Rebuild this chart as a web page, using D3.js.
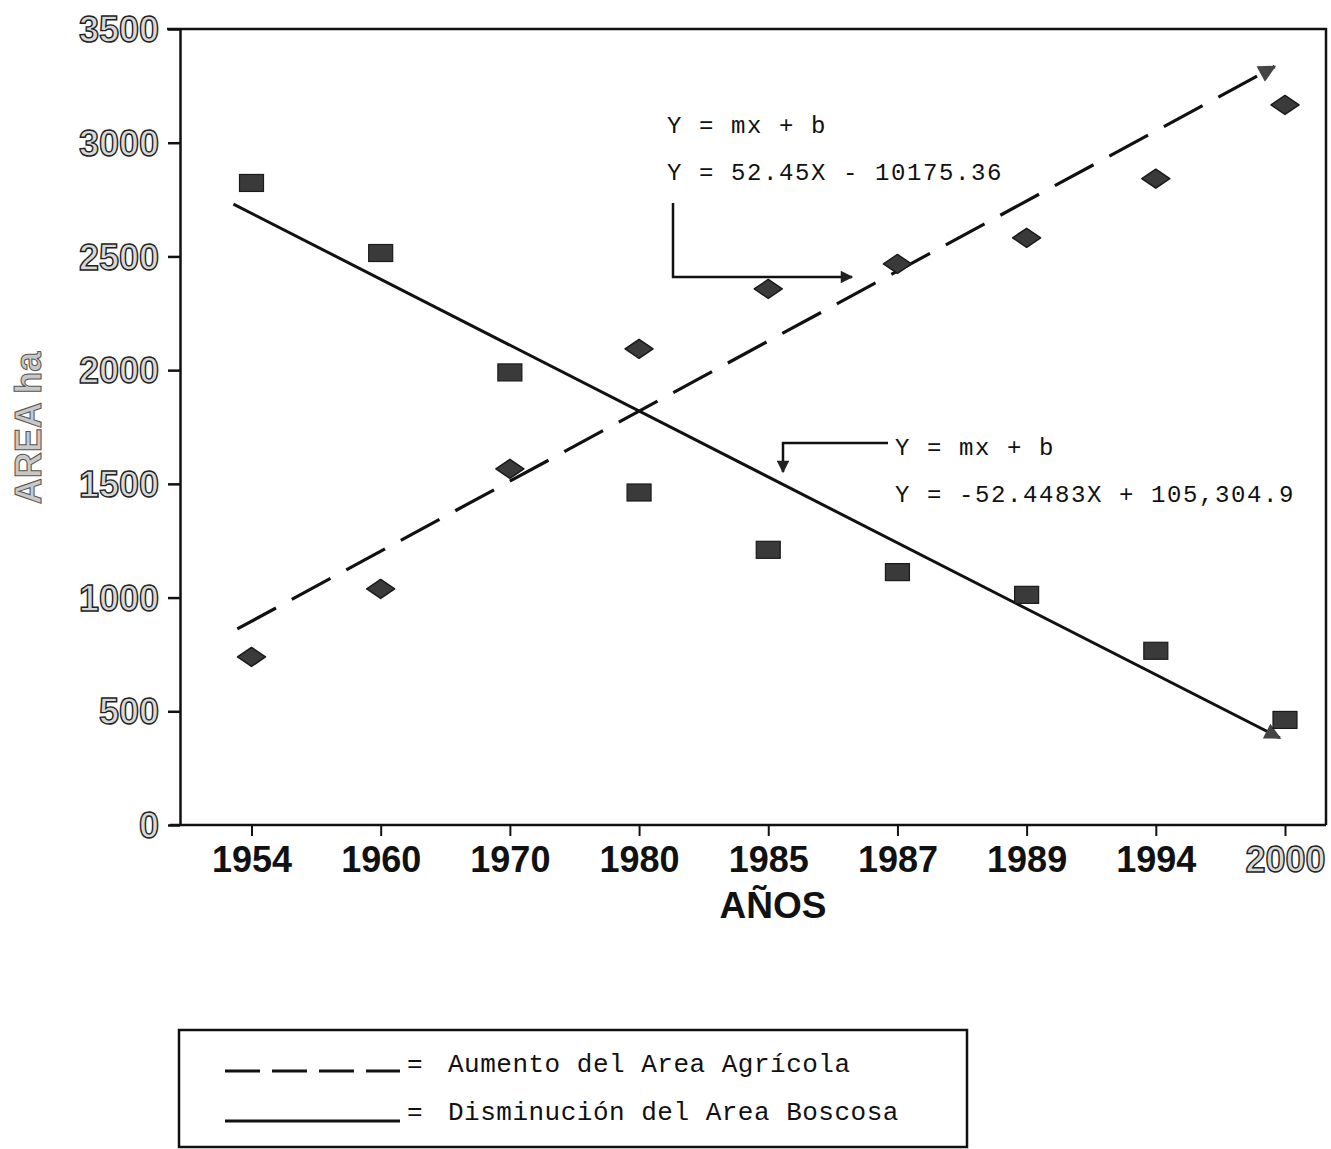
<!DOCTYPE html>
<html>
<head>
<meta charset="utf-8">
<script src="https://cdn.jsdelivr.net/npm/d3@7"></script>
<style>
  html, body { margin: 0; padding: 0; background: #fff; }
  svg { display: block; }
</style>
</head>
<body>
<svg id="chart" width="1331" height="1149"></svg>
<script>
// ---------------- data ----------------
const years = ["1954", "1960", "1970", "1980", "1985", "1987", "1989", "1994", "2000"];
const boscosa = [2823, 2515, 1990, 1462, 1210, 1112, 1012, 766, 462];   // squares
const agricola = [739, 1038, 1566, 2094, 2357, 2467, 2582, 2842, 3166]; // diamonds
const yTicks = [0, 500, 1000, 1500, 2000, 2500, 3000, 3500];
// trend lines in category-index space
const trendAgricolaIdx = [-0.11, 7.92];
const trendAgricolaVal = [862, 3335];
const trendBoscosaIdx = [-0.14, 7.96];
const trendBoscosaVal = [2730, 383];
const eqAgricola = ["Y = mx + b", "Y = 52.45X - 10175.36"];
const eqBoscosa = ["Y = mx + b", "Y = -52.4483X + 105,304.9"];
const legendLabels = ["Aumento del Area Agrícola", "Disminución del Area Boscosa"];
const xTitle = "AÑOS";
const yTitle = "AREA ha";

// ---------------- layout ----------------
const svg = d3.select("#chart");
const pLeft = 180, pRight = 1326, pTop = 29, pBottom = 825;

const x = d3.scalePoint().domain(years).range([251.5, 1285]);
const xi = d3.scaleLinear().domain([0, years.length - 1]).range([251.5, 1285]);
const y = d3.scaleLinear().domain([0, 3500]).range([pBottom, pTop]);

const defs = svg.append("defs");
defs.append("marker").attr("id", "arr").attr("viewBox", "0 0 10 10")
  .attr("refX", 9).attr("refY", 5).attr("markerWidth", 6).attr("markerHeight", 5)
  .attr("markerUnits", "strokeWidth").attr("orient", "auto")
  .append("path").attr("d", "M0,0 L10,5 L0,10 Z").attr("fill", "#222");
defs.append("marker").attr("id", "arr2").attr("viewBox", "0 0 10 10")
  .attr("refX", 9).attr("refY", 5).attr("markerWidth", 6.5).attr("markerHeight", 5.5)
  .attr("markerUnits", "strokeWidth").attr("orient", "auto")
  .append("path").attr("d", "M0,0 L10,5 L0,10 Z").attr("fill", "#444");

// frame
svg.append("path")
  .attr("d", `M${pLeft - 13},${pTop} H${pRight} V${pBottom}`)
  .attr("fill", "none").attr("stroke", "#111").attr("stroke-width", 2.5);

// y axis
const yAxis = svg.append("g").attr("transform", `translate(${pLeft},0)`)
  .call(d3.axisLeft(y).tickValues(yTicks).tickFormat(d3.format("d"))
    .tickSize(12).tickPadding(9).tickSizeOuter(0));
yAxis.select(".domain").attr("stroke", "#111").attr("stroke-width", 2.5);
yAxis.selectAll(".tick line").attr("stroke", "#111").attr("stroke-width", 2.5);
yAxis.selectAll(".tick text")
  .attr("font-family", "'Liberation Sans', Arial, sans-serif")
  .attr("font-weight", "bold").attr("font-size", 36)
  .attr("fill", "#d8d8d8").attr("stroke", "#222").attr("stroke-width", 1.4)
  .attr("dy", "0.35em");

// x axis
const xAxis = svg.append("g").attr("transform", `translate(0,${pBottom})`)
  .call(d3.axisBottom(x).tickSize(11).tickPadding(10).tickSizeOuter(0));
xAxis.select(".domain").attr("d", `M${pLeft - 10},0 H${pRight}`)
  .attr("stroke", "#111").attr("stroke-width", 2.5);
xAxis.selectAll(".tick line").attr("stroke", "#111").attr("stroke-width", 2);
xAxis.selectAll(".tick text")
  .attr("font-family", "'Liberation Sans', Arial, sans-serif")
  .attr("font-weight", "bold").attr("font-size", 36).attr("fill", "#111")
  .each(function (d) {
    if (d === "2000") d3.select(this).attr("fill", "#d8d8d8").attr("stroke", "#222").attr("stroke-width", 1.4);
  });

// axis titles
svg.append("text").text(xTitle)
  .attr("x", 773).attr("y", 918).attr("text-anchor", "middle")
  .attr("font-family", "'Liberation Sans', Arial, sans-serif")
  .attr("font-weight", "bold").attr("font-size", 37).attr("fill", "#111");
svg.append("text").text(yTitle)
  .attr("transform", "translate(41,428) rotate(-90)").attr("text-anchor", "middle")
  .attr("font-family", "'Liberation Sans', Arial, sans-serif")
  .attr("font-weight", "bold").attr("font-size", 36)
  .attr("fill", "#c8c8c8").attr("stroke", "#555").attr("stroke-width", 1);

// trend lines
const line = d3.line().x(d => xi(d[0])).y(d => y(d[1]));
svg.append("path")
  .datum(d3.zip(trendBoscosaIdx, trendBoscosaVal))
  .attr("d", line).attr("fill", "none").attr("stroke", "#111").attr("stroke-width", 3)
  .attr("marker-end", "url(#arr2)");
svg.append("path")
  .datum(d3.zip(trendAgricolaIdx, trendAgricolaVal))
  .attr("d", line).attr("fill", "none").attr("stroke", "#111").attr("stroke-width", 3.2)
  .attr("stroke-dasharray", "44,18").attr("marker-end", "url(#arr2)");

// squares (Boscosa)
svg.append("g").selectAll("rect").data(years.map((yr, i) => [yr, boscosa[i]])).join("rect")
  .attr("x", d => x(d[0]) - 12).attr("y", d => y(d[1]) - 8.5)
  .attr("width", 24).attr("height", 17)
  .attr("fill", "#3a3a3a").attr("stroke", "#1a1a1a").attr("stroke-width", 1.2);

// diamonds (Agricola)
svg.append("g").selectAll("path").data(years.map((yr, i) => [yr, agricola[i]])).join("path")
  .attr("transform", d => `translate(${x(d[0])},${y(d[1])})`)
  .attr("d", "M-14,0 L0,-9.5 L14,0 L0,9.5 Z")
  .attr("fill", "#3a3a3a").attr("stroke", "#1a1a1a").attr("stroke-width", 1.5)
  .attr("stroke-linejoin", "round");

// equations
const monoFont = "'Liberation Mono', 'DejaVu Sans Mono', monospace";
function eqText(lines, x0, y0, dy) {
  lines.forEach((t, k) => {
    svg.append("text").text(t).attr("x", x0).attr("y", y0 + k * dy)
      .attr("font-family", monoFont).attr("font-size", 24)
      .attr("letter-spacing", 1.6).attr("fill", "#111");
  });
}
eqText(eqAgricola, 667, 133, 47);
eqText(eqBoscosa, 895, 455, 47);

// annotation arrows
svg.append("path").attr("d", "M673,203 V277 H852")
  .attr("fill", "none").attr("stroke", "#111").attr("stroke-width", 2.5)
  .attr("marker-end", "url(#arr)");
svg.append("path").attr("d", "M888,443 H783 V472")
  .attr("fill", "none").attr("stroke", "#111").attr("stroke-width", 2.5)
  .attr("marker-end", "url(#arr)");

// legend
svg.append("rect").attr("x", 179).attr("y", 1030).attr("width", 788).attr("height", 117)
  .attr("fill", "none").attr("stroke", "#111").attr("stroke-width", 2.5);
svg.append("line").attr("x1", 225).attr("x2", 400).attr("y1", 1071).attr("y2", 1071)
  .attr("stroke", "#111").attr("stroke-width", 2.8).attr("stroke-dasharray", "35,12");
svg.append("line").attr("x1", 225).attr("x2", 400).attr("y1", 1121).attr("y2", 1121)
  .attr("stroke", "#111").attr("stroke-width", 2.8);
legendLabels.forEach((t, k) => {
  svg.append("text").text("=").attr("x", 407).attr("y", 1072 + k * 48)
    .attr("font-family", monoFont).attr("font-size", 26).attr("fill", "#111");
  svg.append("text").text(t).attr("x", 448).attr("y", 1072 + k * 48)
    .attr("font-family", monoFont).attr("font-size", 26)
    .attr("letter-spacing", 0.5).attr("fill", "#111");
});
</script>
</body>
</html>
